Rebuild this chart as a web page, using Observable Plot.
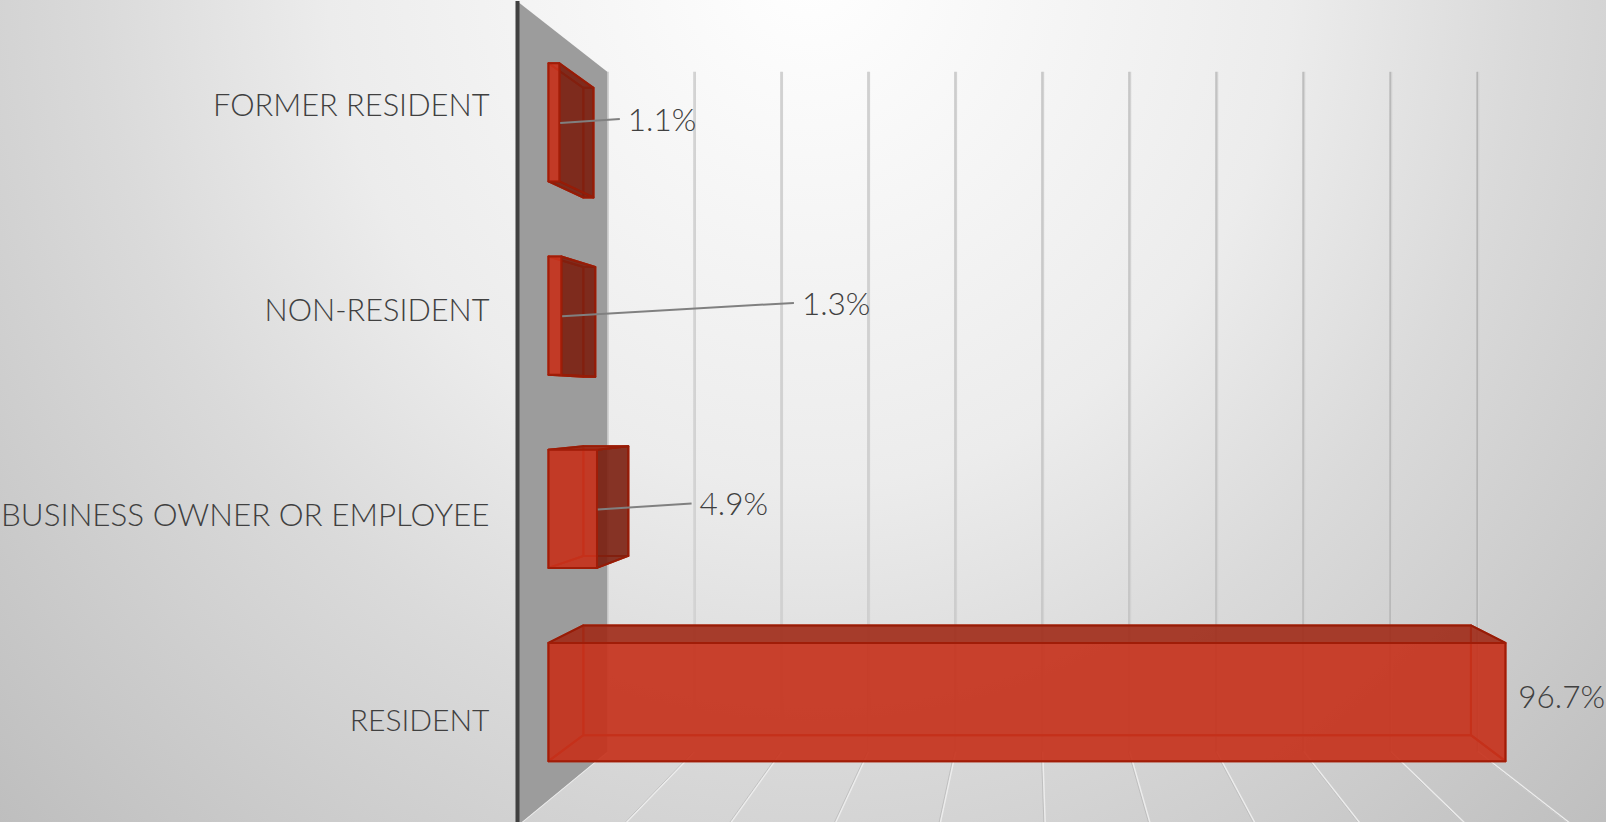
<!DOCTYPE html>
<html>
<head>
<meta charset="utf-8">
<script src="https://cdn.jsdelivr.net/npm/d3@7"></script>
<script src="https://cdn.jsdelivr.net/npm/@observablehq/plot@0.6"></script>
<style>
  html, body { margin: 0; padding: 0; background: #e0e0e0; overflow: hidden; }
  svg { display: block; }
</style>
</head>
<body>
<script>
// Respondent types and their share of responses (percent)
const categories = ["FORMER RESIDENT", "NON-RESIDENT", "BUSINESS OWNER OR EMPLOYEE", "RESIDENT"];
const values = [1.1, 1.3, 4.9, 96.7];
const gridValues = [0, 10, 20, 30, 40, 50, 60, 70, 80, 90, 100];

// Where each callout sits, in chart units (percent across, category row down)
const calloutX = [9.7, 26.2, 16.5, 94.1];
const calloutY = [0.578, 1.471, 2.445, 3.379];
const hasLeader = [true, true, true, false];
const categoryFontSize = [30.8, 30.7, 31.4, 30];

// Perspective of the 3-D box: depth 1 is the front of the side wall
const vanishX = 48.6, vanishY = 1.951;
const wallBack = 0.825, barFront = 0.938, barBack = 0.87, barHalf = 0.306;
const project = (x, y, s) => ({x: vanishX + s * (x - vanishX), y: vanishY + s * (y - vanishY)});

const rows = categories.map((category, i) => ({category, value: values[i], row: i + 0.5, i}));

// One closed polygon per face; z keeps the faces apart
function quad(face, corners) {
  return corners.map(([x, y, s]) => ({face, ...project(x, y, s)}));
}
const hidden = [], facing = [], roof = [], front = [];
for (const {value: v, row, i} of rows) {
  const t = row - barHalf, b = row + barHalf;
  const right = quad(`r${i}`, [[v, t, barFront], [v, t, barBack], [v, b, barBack], [v, b, barFront]]);
  const top = quad(`t${i}`, [[0, t, barFront], [v, t, barFront], [v, t, barBack], [0, t, barBack]]);
  const bottom = quad(`b${i}`, [[0, b, barFront], [v, b, barFront], [v, b, barBack], [0, b, barBack]]);
  hidden.push(...quad(`k${i}`, [[0, t, barBack], [v, t, barBack], [v, b, barBack], [0, b, barBack]]));
  hidden.push(...quad(`l${i}`, [[0, t, barFront], [0, t, barBack], [0, b, barBack], [0, b, barFront]]));
  (v < vanishX ? facing : hidden).push(...right);
  (t > vanishY ? roof : hidden).push(...top);
  (b < vanishY ? facing : hidden).push(...bottom);
  front.push(...quad(`f${i}`, [[0, t, barFront], [v, t, barFront], [v, b, barFront], [0, b, barFront]]));
}

const wall = quad("wall", [[0, 0, 1], [0, 0, wallBack], [0, 4, wallBack], [0, 4, 1]]);
const backGrid = gridValues.map((g) => ({g, a: project(g, 0, wallBack), b: project(g, 4, wallBack)}));
const floorGrid = gridValues.map((g) => ({g, a: project(g, 4, wallBack), b: project(g, 4, 1)}));
const gridEdge = d3.interpolateRgb("#dcdcdc", "#a0a0a0");
const labelFont = {fontFamily: "Lato, 'Noto Sans', sans-serif", fontWeight: 300, fill: "#404040"};
const barNudge = {dx: -0.8, dy: -0.7};

const chart = Plot.plot({
  width: 1606,
  height: 822,
  margin: 0,
  x: {domain: [0, 100], range: [517, 1572], axis: null},
  y: {domain: [0, 4], range: [1, 825], axis: null},
  style: {
    background: "radial-gradient(ellipse 1150px 1250px at 810px -40px, #ffffff 0%, #ececec 42%, #dadada 62%, #bdbdbd 100%)",
    overflow: "hidden"
  },
  marks: [
    // Back wall gridlines: a soft band with a thin darker edge
    Plot.link(backGrid, {x1: (d) => d.a.x, y1: (d) => d.a.y, x2: (d) => d.b.x, y2: (d) => d.b.y, stroke: "#d2d2d2", strokeWidth: 2.5, dx: 0.5}),
    Plot.link(backGrid, {x1: (d) => d.a.x, y1: (d) => d.a.y, x2: (d) => d.b.x, y2: (d) => d.b.y, stroke: (d) => gridEdge(d.g / 100), strokeWidth: 1, dx: -0.5}),

    // Floor lines running toward the viewer
    Plot.link(floorGrid, {x1: (d) => d.a.x, y1: (d) => d.a.y, x2: (d) => d.b.x, y2: (d) => d.b.y, stroke: "#ececec", strokeWidth: 2}),
    Plot.link(floorGrid, {x1: (d) => d.a.x, y1: (d) => d.a.y, x2: (d) => d.b.x, y2: (d) => d.b.y, stroke: "#a8a8a8", strokeWidth: 0.6, dx: -1}),

    // Side wall with its dark front edge
    Plot.line(wall, {x: "x", y: "y", z: "face", curve: "linear-closed", fill: "#9c9c9c", stroke: "none"}),
    Plot.ruleX([0], {y1: 0, y2: 4, stroke: "#404040", strokeWidth: 4}),

    // Bars: faces turned away are only outlined, faces turned toward the viewer are shaded
    Plot.line(hidden, {x: "x", y: "y", z: "face", curve: "linear-closed", stroke: "#bd2409", strokeWidth: 2, ...barNudge}),
    Plot.line(facing, {x: "x", y: "y", z: "face", curve: "linear-closed", fill: "#7b1f10", fillOpacity: 0.9, stroke: "#961c07", strokeWidth: 2, ...barNudge}),
    Plot.line(roof, {x: "x", y: "y", z: "face", curve: "linear-closed", fill: "#a02a17", fillOpacity: 0.9, stroke: "#961c07", strokeWidth: 2, ...barNudge}),
    Plot.line(front, {x: "x", y: "y", z: "face", curve: "linear-closed", fill: "#c6321c", fillOpacity: 0.92, stroke: "#a01d08", strokeWidth: 2, ...barNudge}),

    // Leader lines from the bar ends to the percentages
    Plot.link(rows.filter((d) => hasLeader[d.i]), {
      x1: (d) => project(d.value, d.row, barFront).x,
      y1: (d) => project(d.value, d.row, barFront).y,
      x2: (d) => calloutX[d.i],
      y2: (d) => calloutY[d.i] - 0.008,
      stroke: "#808080",
      strokeWidth: 2
    }),

    // Percentages
    Plot.text(rows, {
      x: (d) => calloutX[d.i],
      y: (d) => calloutY[d.i],
      text: (d) => `${d.value.toFixed(1)}%`,
      textAnchor: "start",
      dx: 8,
      fontSize: 31.5,
      ...labelFont
    }),

    // Category names along the wall
    Plot.text(rows, {
      x: 0,
      y: (d) => project(0, d.row, 0.995).y,
      text: "category",
      textAnchor: "end",
      dx: -28,
      fontSize: (d) => categoryFontSize[d.i],
      ...labelFont
    })
  ]
});
document.body.appendChild(chart);
</script>
</body>
</html>
